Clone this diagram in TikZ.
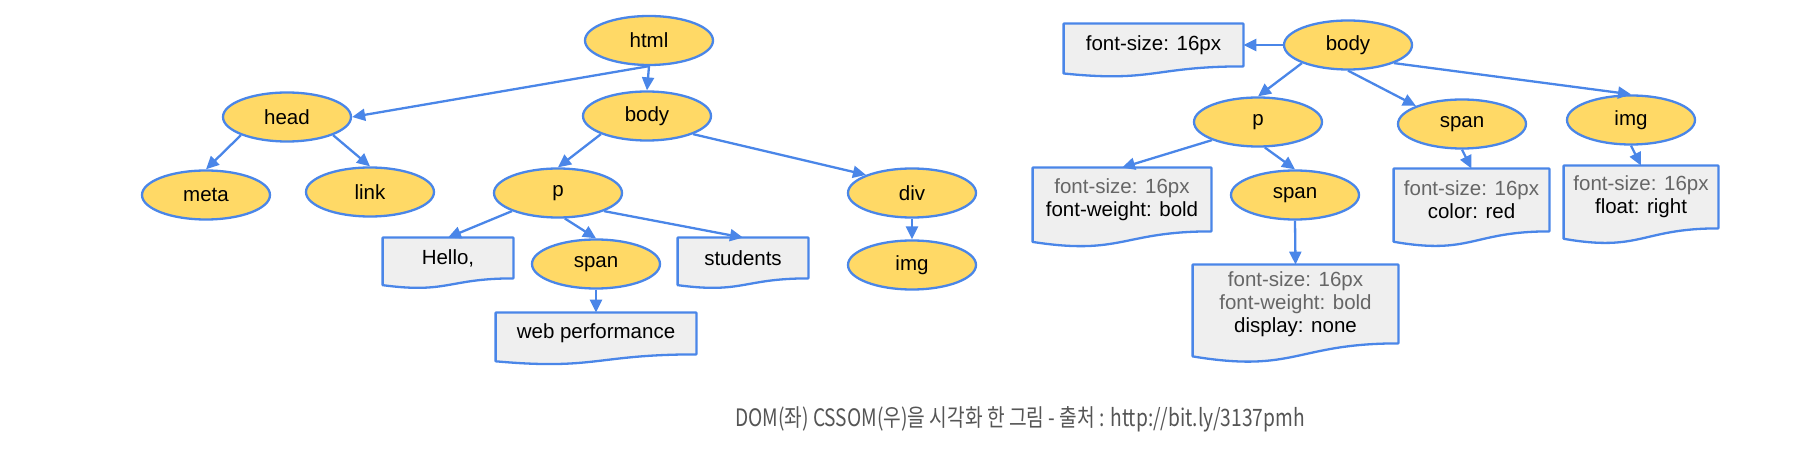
\documentclass[tikz,border=0pt]{standalone}
\usepackage{fontspec}
\setmainfont{Liberation Sans}
\newfontfamily\krfont{Noto Sans CJK KR}
\usetikzlibrary{arrows.meta,shapes.geometric,backgrounds,calc}
\definecolor{tagyellow}{HTML}{FFD966}
\definecolor{linkblue}{HTML}{4A86E8}
\definecolor{docgray}{HTML}{EFEFEF}
\definecolor{inhgray}{HTML}{666666}
\definecolor{capgray}{HTML}{555555}
\tikzset{
  tag/.style = {ellipse, draw=linkblue, fill=tagyellow, line width=1.15pt,
    inner sep=0pt, minimum width=64pt, minimum height=24.5pt,
    font=\fontsize{10.25}{12}\selectfont},% yellow element node
  doc/.style = {rectangle, inner sep=0pt, align=center,
    font=\fontsize{10.25}{11.5}\selectfont},% text / style box
  docline/.style = {draw=linkblue, fill=docgray, line width=1.15pt,
    line join=round},
  inh/.style = {text=inhgray}
}

\begin{document}
\begin{tikzpicture}[x=0.5pt,y=-0.5pt,
  every edge/.style={draw=linkblue, line width=1.15pt},
  >={Triangle[length=6.5pt,width=6pt]}]
\useasboundingbox (0,0) rectangle (1800,454);

% DOM
\node [tag] (html) at (649,40.5) {html};
\node [tag] (head) at (287,117) {head};
\node [tag] (body) at (647,116) {body};
\node [tag] (meta) at (206,195) {meta};
\node [tag] (link) at (370,192) {link};
\node [tag] (p) at (558,193) {p};
\node [tag] (div) at (912,193) {div};
\node [tag] (span) at (596,264) {span};
\node [tag] (img) at (912,265) {img};
\node [doc, minimum width=65pt, minimum height=20pt] (hello) at (448,258) {Hello,};
\node [doc, minimum width=65pt, minimum height=20pt] (students) at (743,258) {students};
\node [doc, minimum width=100pt, minimum height=20.5pt] (webperf) at (596,333.5) {web performance};

% CSSOM
\node [tag] (cbody) at (1348,45) {body};
\node [tag] (cp) at (1258,122) {p};
\node [tag] (cspan) at (1462,124) {span};
\node [tag] (cimg) at (1631,120) {img};
\node [tag] (cpspan) at (1295,195) {span};
\node [doc, minimum width=89.5pt, minimum height=21pt] (bodycss) at (1153.5,45) {font-size: 16px};
\node [doc, minimum width=89pt, minimum height=31.5pt] (pcss) at (1122,199.5)
  {\textcolor{inhgray}{font-size: 16px}\\font-weight: bold};
\node [doc, minimum width=77.5pt, minimum height=31pt] (spancss) at (1471.5,200)
  {\textcolor{inhgray}{font-size: 16px}\\color: red};
\node [doc, minimum width=77pt, minimum height=31pt] (imgcss) at (1641,197)
  {\textcolor{inhgray}{font-size: 16px}\\float: right};
\node [doc, minimum width=102.5pt, minimum height=39pt] (pspancss) at (1295.5,304)
  {\textcolor{inhgray}{font-size: 16px}\\\textcolor{inhgray}{font-weight: bold}\\display: none};

% wavy document outlines
\begin{scope}[on background layer]
\foreach \b in {hello,students,webperf,bodycss,pcss,spancss,imgcss,pspancss}
  \draw [docline] let \p1=(\b.north west), \p2=(\b.south east), \n1={\y1-\y2} in
    (\p1) -- (\x2,\y1) -- (\p2)
    .. controls ({(\x1+\x2)/2},\y2) and ({(\x1+\x2)/2},\y2-0.381*\n1) ..
    (\x1,\y2-0.165*\n1) -- cycle;
\end{scope}

% connectors
\path [->] (html.south) edge (head.east)
  (html.south) edge (body.north)
  (head.south west) edge (meta.north)
  (head.south east) edge (link.north)
  (body.south west) edge (p.north)
  (body.south east) edge (div.north west)
  (p.south west) edge (hello.north)
  (p.-75) edge (span.north)
  (p.south east) edge (students.north)
  (span.south) edge (webperf.north)
  (div.south) edge (img.north);
\path [->] (cbody.west) edge (bodycss.east)
  (cbody.south west) edge (cp.north)
  (cbody.south) edge (cspan.north west)
  (cbody.south east) edge (cimg.north)
  (cp.south west) edge (pcss.north)
  (cp.-75) edge (cpspan.north)
  (cspan.south) edge (spancss.north)
  (cimg.south) edge (imgcss.north)
  (cpspan.south) edge (pspancss.north);

\node [text=capgray, font=\krfont\fontsize{12}{14}\selectfont] (caption) at (1020,419)
  {\scalebox{0.8}[1]{DOM(좌) CSSOM(우)을 시각화 한 그림 - 출처 : http://bit.ly/3137pmh}};
\end{tikzpicture}
\end{document}
